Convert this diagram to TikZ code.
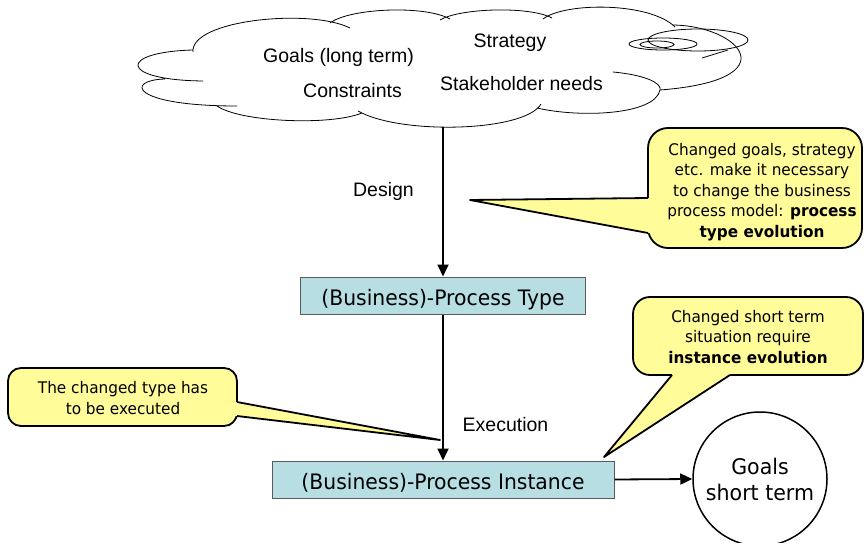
\documentclass[tikz,border=0pt]{standalone}
\usepackage{fontspec}
\setmainfont{Liberation Sans}
\newfontfamily\tfont{DejaVu Sans}[FakeStretch=0.955]
\usetikzlibrary{arrows.meta,calc}
\definecolor{boxfill}{RGB}{183,223,227}
\definecolor{boxline}{RGB}{90,90,90}
\definecolor{callfill}{RGB}{255,252,153}
\begin{document}
\begin{tikzpicture}[x=1pt,y=-1pt,
  cloudline/.style={line width=0.8pt},
  cloudtext/.style={font=\fontsize{19.5}{23}\selectfont, anchor=base, inner sep=0pt},
  procbox/.style={draw=boxline, line width=1pt, fill=boxfill, inner sep=0pt,
    text height=20.6pt, text depth=0pt, font=\tfont\fontsize{21.3}{25}\selectfont},
  flow/.style={line width=1.8pt, -{Triangle[length=12pt,width=11pt]}},
  callbox/.style={draw=black, line width=1.8pt, fill=callfill, inner sep=0pt},
  calltext/.style={font=\tfont\fontsize{16}{20.5}\selectfont, align=center, inner sep=0pt},
  tailfill/.style={fill=callfill},
  tailline/.style={line width=1.8pt, line join=round}
]
\useasboundingbox (0,0) rectangle (865,543);

% cloud
\draw[cloudline]
 (193,52) .. controls (190,20) and (310,8) .. (350,28)
 (330,23) .. controls (350,8) and (425,5) .. (450,19)
 (440,20) .. controls (460,8) and (530,6) .. (552,18)
 (543,19) .. controls (565,2) and (650,2) .. (675,27)
 (673,25) .. controls (740,26) and (790,80) .. (660,90)
 (702,58) -- (728,50)
 (613,72) .. controls (645,75) and (662,83) .. (660,90)
 (660,90) .. controls (655,115) and (580,118) .. (537,108)
 (541,104) .. controls (525,132) and (400,135) .. (358,111)
 (362,113) .. controls (330,126) and (240,122) .. (217,106)
 (237,106) .. controls (130,106) and (125,80) .. (165,79)
 (193,50) .. controls (118,52) and (118,80) .. (203,81);
\draw[cloudline] (698,40) ellipse [x radius=50pt, y radius=11pt];
\draw[cloudline] (663,44) ellipse [x radius=34pt, y radius=6pt];
\draw[cloudline] (657,44.5) ellipse [x radius=17pt, y radius=3.5pt];

\node[cloudtext] (goalslong) at (338.5,63) {Goals (long term)};
\node[cloudtext] (strategy) at (510,48) {Strategy};
\node[cloudtext] (constraints) at (352.5,98) {Constraints};
\node[cloudtext] (stakeholder) at (521.5,90) {Stakeholder needs};
\coordinate (cloudbot) at (443,127);

% process boxes
\node[procbox, minimum width=285pt, minimum height=37pt] (type) at (443,295.5) {(Business)-Process Type};
\node[procbox, minimum width=342pt, minimum height=37pt] (inst) at (443,479.5) {(Business)-Process Instance};
\node[draw, circle, line width=1.5pt, minimum size=134pt, inner sep=0pt, align=center,
  font=\tfont\fontsize{21.5}{26}\selectfont] (goals) at (760,479) {Goals\\short term};

% connectors
\draw[flow] (cloudbot) -- (type.north);
\draw[flow] (type.south) -- (inst.north);
\draw[flow] (inst.east) -- (goals.west);
\node[cloudtext] (design) at (383.5,196) {Design};
\node[cloudtext] (execution) at (505.5,431) {Execution};

% callout 1
\node[callbox, rounded corners=20pt, minimum width=214pt, minimum height=120pt] (c1) at (755,188) {};
\coordinate (c1a) at (648,198);
\coordinate (c1b) at (648,233);
\coordinate (c1tip) at (470,200);
\fill[tailfill] (c1tip) -- (c1a) -- ($(c1a)+(4,0)$) -- ($(c1b)+(4,0)$) -- (c1b) -- cycle;
\draw[tailline] (c1a) -- (c1tip) -- (c1b);
\node[calltext] (c1t) at (762,192) {Changed goals, strategy\\etc. make it necessary\\to change the business\\process model: \textbf{process}\\\textbf{type evolution}};

% callout 2
\node[callbox, rounded corners=13pt, minimum width=229pt, minimum height=58pt] (c2) at (122.5,397) {};
\coordinate (c2a) at (237,402);
\coordinate (c2b) at (237,416);
\coordinate (c2tip) at (440,440);
\fill[tailfill] (c2tip) -- (c2a) -- ($(c2a)+(-4,0)$) -- ($(c2b)+(-4,0)$) -- (c2b) -- cycle;
\draw[tailline] (c2a) -- (c2tip) -- (c2b);
\node[calltext] (c2t) at (123,398) {The changed type has\\to be executed};

% callout 3
\node[callbox, rounded corners=17pt, minimum width=230pt, minimum height=78pt] (c3) at (748,336) {};
\coordinate (c3a) at (672,375);
\coordinate (c3b) at (730,375);
\coordinate (c3tip) at (604,457);
\fill[tailfill] (c3tip) -- (c3a) -- ($(c3a)+(0,-4)$) -- ($(c3b)+(0,-4)$) -- (c3b) -- cycle;
\draw[tailline] (c3a) -- (c3tip) -- (c3b);
\node[calltext] (c3t) at (748,337) {Changed short term\\situation require\\\textbf{instance evolution}};
\end{tikzpicture}
\end{document}
